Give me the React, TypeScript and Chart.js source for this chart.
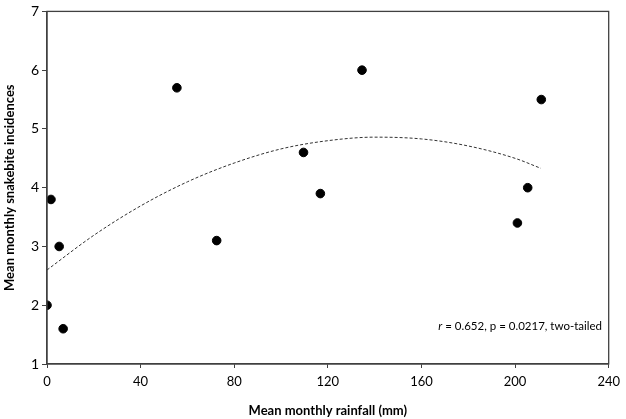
import React, { useEffect, useRef } from "react";
import { Chart, registerables } from "chart.js";

Chart.register(...registerables);

const rainfall = [0, 1.7, 5.2, 6.9, 55.5, 72.5, 109.6, 116.8, 134.6, 201, 205.4, 211.2];
const incidences = [2.0, 3.8, 3.0, 1.6, 5.7, 3.1, 4.6, 3.9, 6.0, 3.4, 4.0, 5.5];

const trendX = [0, 20, 40, 60, 80, 100, 120, 140, 160, 180, 200, 211];
const trendY = [2.6, 3.19, 3.69, 4.1, 4.42, 4.66, 4.8, 4.86, 4.83, 4.71, 4.5, 4.33];

const xTicks = [0, 40, 80, 120, 160, 200, 240];
const yTicks = [1, 2, 3, 4, 5, 6, 7];

const annotation = { x: 167.2, y: 1.65, r: "r", rest: " = 0.652, p = 0.0217, two-tailed" };

const FONT = "Lato, 'Open Sans', sans-serif";

const framePlugin = {
  id: "frame",
  afterDraw(chart: any) {
    const { ctx, chartArea } = chart;
    ctx.save();
    ctx.strokeStyle = "#404040";
    ctx.lineWidth = 1.3;
    ctx.strokeRect(chartArea.left, chartArea.top, chartArea.right - chartArea.left, chartArea.bottom - chartArea.top);
    const xs = chart.scales.x;
    const ys = chart.scales.y;
    const px = xs.getPixelForValue(annotation.x);
    const py = ys.getPixelForValue(annotation.y);
    ctx.fillStyle = "#000";
    ctx.textBaseline = "middle";
    ctx.textAlign = "left";
    ctx.font = "italic 11.5px " + FONT;
    ctx.fillText(annotation.r, px, py);
    const w = ctx.measureText(annotation.r).width;
    ctx.font = "11.5px " + FONT;
    ctx.fillText(annotation.rest, px + w, py);
    ctx.restore();
  },
};

export default function App() {
  const ref = useRef<HTMLCanvasElement>(null);
  useEffect(() => {
    document.body.style.margin = "0";
    const chart = new Chart(ref.current as HTMLCanvasElement, {
      type: "scatter",
      data: {
        datasets: [
          {
            type: "line",
            data: trendX.map((x, i) => ({ x, y: trendY[i] })),
            borderColor: "#333",
            borderWidth: 1,
            borderDash: [3, 2],
            pointRadius: 0,
            fill: false,
            cubicInterpolationMode: "monotone",
          } as any,
          {
            data: rainfall.map((x, i) => ({ x, y: incidences[i] })),
            backgroundColor: "#000",
            borderColor: "#000",
            pointRadius: 4.3,
            pointHoverRadius: 4.3,
          },
        ],
      },
      options: {
        animation: false,
        responsive: false,
        events: [],
        layout: { padding: { top: 5, right: 12, left: 0, bottom: 0 } },
        plugins: { legend: { display: false }, tooltip: { enabled: false } },
        scales: {
          x: {
            type: "linear",
            min: 0,
            max: 240,
            afterBuildTicks: (s: any) => {
              s.ticks = xTicks.map((v) => ({ value: v }));
            },
            afterFit: (s: any) => {
              s.height = 55;
            },
            grid: { drawOnChartArea: false, tickLength: 4, color: "#404040", offset: false },
            border: { display: true, color: "#404040", width: 1.3 },
            ticks: { color: "#000", font: { family: FONT, size: 13 }, padding: 6, maxRotation: 0 },
            title: {
              display: true,
              text: "Mean monthly rainfall (mm)",
              color: "#000",
              font: { family: FONT, size: 13, weight: "bold" },
              padding: { top: 8, bottom: 0 },
            },
          },
          y: {
            type: "linear",
            min: 1,
            max: 7,
            afterBuildTicks: (s: any) => {
              s.ticks = yTicks.map((v) => ({ value: v }));
            },
            afterFit: (s: any) => {
              s.width = 47;
            },
            grid: { drawOnChartArea: false, tickLength: 5, color: "#404040" },
            border: { display: true, color: "#404040", width: 1.3 },
            ticks: { color: "#000", font: { family: FONT, size: 14 }, padding: 3 },
            title: {
              display: true,
              text: "Mean monthly snakebite incidences",
              color: "#000",
              font: { family: FONT, size: 13, weight: "bold" },
              padding: { top: 2, bottom: 4 },
            },
          },
        },
      },
      plugins: [framePlugin],
    });
    return () => chart.destroy();
  }, []);
  return <canvas ref={ref} width={626} height={419} style={{ display: "block" }} />;
}
